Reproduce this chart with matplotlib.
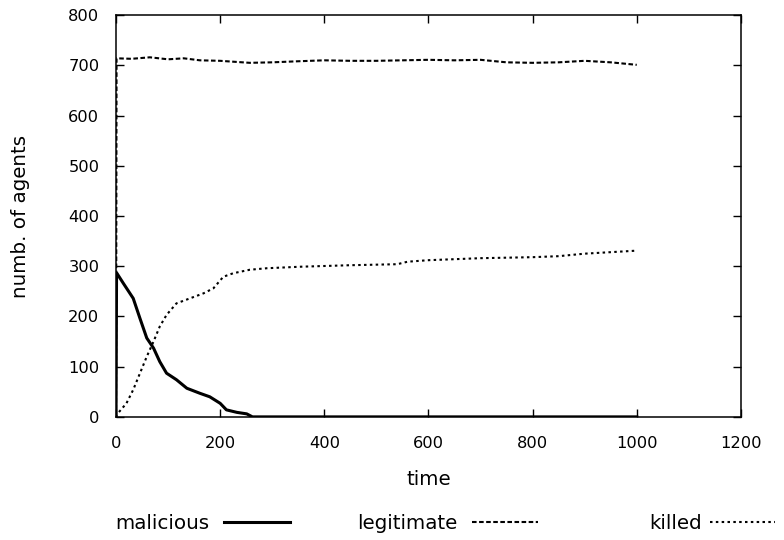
#!/usr/bin/env python3
"""Agent population over time (gnuplot-like style)."""

import matplotlib

matplotlib.use("Agg")
import matplotlib.pyplot as plt

plt.rcParams["font.family"] = ["DejaVu Sans"]

# malicious agents (solid)
mal_t = [0, 1, 14, 33, 46, 59, 72, 84, 97, 116, 136, 161, 180, 200, 212, 232, 251, 262, 400, 600, 800, 1000]
mal_y = [0, 287, 266, 236, 196, 157, 137, 110, 87, 74, 57, 47, 40, 27, 14, 9, 6, 0, 0, 0, 0, 0]

# legitimate agents (dashed)
leg_t = [0, 1, 30, 65, 100, 130, 161, 200, 257, 300, 347, 400, 450, 500, 550, 600, 650, 700, 750, 800, 850, 900, 950, 1000]
leg_y = [0, 714, 713, 716, 712, 714, 710, 709, 705, 706, 708, 710, 709, 709, 710, 711, 710, 711, 706, 705, 706, 709, 706, 701]

# killed agents (dotted)
kil_t = [0, 1, 20, 33, 46, 59, 72, 84, 97, 116, 142, 168, 187, 206, 225, 257, 290, 354, 450, 540, 560, 600, 700, 800, 850, 900, 950, 1000]
kil_y = [0, 4, 27, 54, 87, 120, 150, 180, 203, 226, 236, 246, 256, 279, 286, 293, 296, 299, 302, 304, 309, 312, 316, 318, 320, 325, 328, 331]

x_ticks = [0, 200, 400, 600, 800, 1000, 1200]
y_ticks = [0, 100, 200, 300, 400, 500, 600, 700, 800]

TICK_FS = 11.7
LABEL_FS = 14.3

fig = plt.figure(figsize=(7.84, 5.40), dpi=100)
ax = fig.add_axes([0.148, 0.228, 0.797, 0.744])

(l_mal,) = ax.plot(mal_t, mal_y, color="black", linewidth=2.2, solid_joinstyle="round")
(l_leg,) = ax.plot(leg_t, leg_y, color="black", linewidth=1.5, linestyle=(0, (2.2, 1.2)))
(l_kil,) = ax.plot(kil_t, kil_y, color="black", linewidth=1.5, linestyle=(0, (1.2, 1.6)))

ax.set_xlim(0, 1200)
ax.set_ylim(0, 800)
ax.set_xticks(x_ticks)
ax.set_yticks(y_ticks)
ax.tick_params(direction="in", top=True, right=True, length=6, width=1.0, labelsize=TICK_FS)
ax.tick_params(axis="y", pad=12)
ax.tick_params(axis="x", pad=14)
for sp in ax.spines.values():
    sp.set_linewidth(1.1)

ax.set_xlabel("time", fontsize=LABEL_FS)
ax.set_ylabel("numb. of agents", fontsize=LABEL_FS)
ax.xaxis.set_label_coords(0.5, -0.132)
ax.yaxis.set_label_coords(-0.137, 0.5)

# gnuplot-style key: label first, sample after, spread along the bottom
for handle, label, xpos, gap in [
    (l_mal, "malicious", 0.1467, 0.75),
    (l_leg, "legitimate", 0.4554, 0.75),
    (l_kil, "killed", 0.828, 0.4),
]:
    fig.legend(
        [handle], [label], loc="center left", bbox_to_anchor=(xpos, 0.03),
        frameon=False, markerfirst=False, handlelength=3.3, handletextpad=gap,
        borderpad=0, borderaxespad=0, fontsize=LABEL_FS,
    )

fig.savefig("out.png", dpi=100)
